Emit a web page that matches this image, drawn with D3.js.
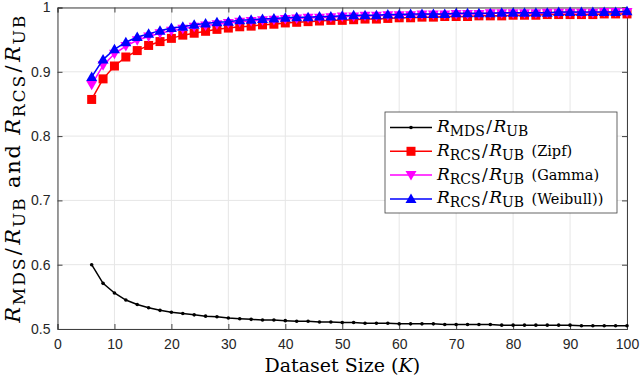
<!DOCTYPE html>
<html>
<head>
<meta charset="utf-8">
<script src="https://cdn.jsdelivr.net/npm/d3@7"></script>
<style>
  body { margin: 0; background: #fff; }
  svg { display: block; }
</style>
</head>
<body>
<svg width="640" height="381"></svg>
<script>
// dataset sizes K
var sizes = [6, 8, 10, 12, 14, 16, 18, 20, 22, 24, 26, 28, 30, 32, 34, 36, 38, 40, 42, 44, 46, 48, 50, 52,
  54, 56, 58, 60, 62, 64, 66, 68, 70, 72, 74, 76, 78, 80, 82, 84, 86, 88, 90, 92, 94, 96, 98, 100]

var mdsValues = [.600, .571, .556, .545, .538, .533, .529, .526, .524, .522, .520, .519, .517, .516, .515, .514,
  .514, .513, .512, .512, .511, .511, .510, .510, .509, .509, .509, .508, .508, .508, .508, .507,
  .507, .507, .507, .507, .506, .506, .506, .506, .506, .506, .506, .505, .505, .505, .505, .505]

var zipfValues = [.857, .889, .909, .923, .933, .941, .947, .952, .957, .960, .963, .966, .968, .970, .971, .973,
  .974, .976, .977, .978, .979, .980, .980, .981, .982, .982, .983, .984, .984, .985, .985, .986,
  .986, .986, .987, .987, .987, .988, .988, .988, .989, .989, .989, .989, .989, .990, .990, .990]

var gammaValues = [.880, .910, .928, .940, .949, .955, .960, .964, .967, .970, .972, .974, .976, .978, .979, .980,
  .981, .982, .983, .984, .984, .985, .986, .986, .987, .987, .988, .988, .988, .989, .989, .989,
  .990, .990, .990, .991, .991, .991, .991, .991, .992, .992, .992, .992, .992, .993, .993, .993]

var weibullValues = [.892, .919, .935, .946, .954, .959, .964, .968, .970, .973, .975, .977, .978, .980, .981, .982,
  .983, .984, .985, .985, .986, .986, .987, .988, .988, .988, .989, .989, .990, .990, .990, .990,
  .991, .991, .991, .991, .992, .992, .992, .992, .992, .993, .993, .993, .993, .993, .993, .994]

var xTicks = [0, 10, 20, 30, 40, 50, 60, 70, 80, 90, 100]
var yTicks = [0.5, 0.6, 0.7, 0.8, 0.9, 1]

var series = [
  { name: 'MDS', note: '', values: mdsValues, color: '#000', marker: 'dot' },
  { name: 'RCS', note: '(Zipf)', values: zipfValues, color: '#ff0000', marker: 'square' },
  { name: 'RCS', note: '(Gamma)', values: gammaValues, color: '#ff00ff', marker: 'down' },
  { name: 'RCS', note: '(Weibull))', values: weibullValues, color: '#0000ff', marker: 'up' }
]

var margin = { left: 57.5, right: 13, top: 7.5, bottom: 52 }
var width = 640, height = 381
var svg = d3.select('svg')
var axisColor = '#404040'
var tickFont = '"Liberation Sans", Arial, sans-serif'
var texFont = '"DejaVu Serif", serif'

var x = d3.scaleLinear().domain([0, 100]).range([margin.left, width - margin.right])
var y = d3.scaleLinear().domain([0.5, 1]).range([height - margin.bottom, margin.top])

// grid
var grid = svg.append('g').attr('class', 'grid')
grid.selectAll('line.gx').data(xTicks).enter().append('line')
  .attr('x1', d => x(d)).attr('x2', d => x(d))
  .attr('y1', y.range()[0]).attr('y2', y.range()[1])
  .attr('stroke', '#e6e6e6').attr('stroke-width', 1)
grid.selectAll('line.gy').data(yTicks).enter().append('line')
  .attr('y1', d => y(d)).attr('y2', d => y(d))
  .attr('x1', x.range()[0]).attr('x2', x.range()[1])
  .attr('stroke', '#e6e6e6').attr('stroke-width', 1)

// axes (ticks pointing inward, box on all sides)
function styleAxis(g) {
  g.select('.domain').attr('stroke', axisColor)
  g.selectAll('.tick line').attr('stroke', axisColor)
  g.selectAll('.tick text').attr('fill', '#262626').style('font-family', tickFont).style('font-size', '14px')
}
svg.append('g').attr('transform', 'translate(0,' + y(0.5) + ')')
  .call(d3.axisBottom(x).tickValues(xTicks).tickSize(-5).tickPadding(10).tickFormat(d3.format('d')))
  .call(styleAxis)
svg.append('g').attr('transform', 'translate(' + x(0) + ',0)')
  .call(d3.axisLeft(y).tickValues(yTicks).tickSize(-5).tickPadding(7).tickFormat(d => d === 1 ? '1' : d3.format('.1f')(d)))
  .call(styleAxis)
svg.append('g').attr('transform', 'translate(0,' + y(1) + ')')
  .call(d3.axisTop(x).tickValues(xTicks).tickSize(-5).tickFormat(''))
  .call(styleAxis)
svg.append('g').attr('transform', 'translate(' + x(100) + ',0)')
  .call(d3.axisRight(y).tickValues(yTicks).tickSize(-5).tickFormat(''))
  .call(styleAxis)

// markers
function drawMarker(g, type, color) {
  if (type === 'dot') {
    g.append('circle').attr('r', 1.8).attr('fill', color)
  } else if (type === 'square') {
    g.append('rect').attr('x', -4.5).attr('y', -4.5).attr('width', 9).attr('height', 9).attr('fill', color)
  } else if (type === 'down') {
    g.append('path').attr('d', 'M-5.5,-4 L5.5,-4 L0,5.5 Z').attr('fill', color)
  } else if (type === 'up') {
    g.append('path').attr('d', 'M-5.5,4 L5.5,4 L0,-5.5 Z').attr('fill', color)
  }
}

var line = d3.line().x((d, i) => x(sizes[i])).y(d => y(d))
var plot = svg.append('g').attr('class', 'series')
series.forEach(function (s) {
  plot.append('path').datum(s.values).attr('d', line)
    .attr('fill', 'none').attr('stroke', s.color).attr('stroke-width', 1.5)
  s.values.forEach(function (v, i) {
    var g = plot.append('g').attr('transform', 'translate(' + x(sizes[i]) + ',' + y(v) + ')')
    drawMarker(g, s.marker, s.color)
  })
})

// R_sub / R_UB label builder (math-ish: italic R, upright subscripts)
function ratio(textEl, sub, size) {
  var small = (size * 0.82) + 'px'
  var drop = size * 0.24
  textEl.append('tspan').style('font-style', 'italic').text('R')
  textEl.append('tspan').style('font-size', small).attr('dy', drop).text(sub)
  textEl.append('tspan').attr('dy', -drop).attr('dx', 1.5).text('/')
  textEl.append('tspan').attr('dx', 1.5).style('font-style', 'italic').text('R')
  textEl.append('tspan').style('font-size', small).attr('dy', drop).text('UB')
  textEl.append('tspan').attr('dy', -drop).text('\u00a0')
}

// legend
var legend = svg.append('g').attr('transform', 'translate(385,112)')
legend.append('rect').attr('width', 232).attr('height', 101)
  .attr('fill', '#fff').attr('stroke', axisColor).attr('stroke-width', 0.8)
series.forEach(function (s, i) {
  var ly = 15.5 + i * 23.8
  legend.append('line').attr('x1', 5).attr('x2', 47).attr('y1', ly).attr('y2', ly)
    .attr('stroke', s.color).attr('stroke-width', 1.5)
  drawMarker(legend.append('g').attr('transform', 'translate(26,' + ly + ')'), s.marker, s.color)
  var t = legend.append('text').attr('x', 52).attr('y', ly + 4.5)
    .style('font-family', texFont).style('font-size', '17px').attr('fill', '#000')
  ratio(t, s.name, 17)
  if (s.note) {
    t.append('tspan').style('font-size', '14.5px').attr('dx', 2).attr('dy', 0.5).text(s.note)
  }
})

// axis titles
var xt = svg.append('text').attr('x', x(50)).attr('y', 372).attr('text-anchor', 'middle')
  .style('font-family', texFont).style('font-size', '19px').attr('fill', '#000')
xt.append('tspan').text('Dataset Size (')
xt.append('tspan').style('font-style', 'italic').text('K')
xt.append('tspan').text(')')

var yt = svg.append('text').attr('transform', 'translate(20,' + y(0.75) + ') rotate(-90)')
  .attr('text-anchor', 'middle')
  .style('font-family', texFont).style('font-size', '21px').attr('fill', '#000')
ratio(yt, 'MDS', 21)
yt.append('tspan').text('and\u00a0')
ratio(yt, 'RCS', 21)
yt.select('tspan:last-child').remove()
// stretch the title to the span it has in the reference (about 303px)
var ytw = yt.node().getComputedTextLength()
var ytChars = yt.text().length
if (ytw < 303) yt.style('letter-spacing', ((303 - ytw) / ytChars) + 'px')
</script>
</body>
</html>
